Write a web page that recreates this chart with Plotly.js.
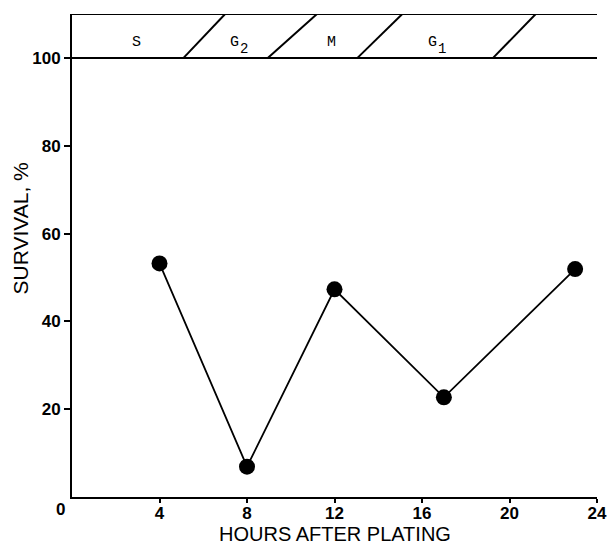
<!DOCTYPE html>
<html>
<head>
<meta charset="utf-8">
<script src="https://cdn.plot.ly/plotly-3.0.1.min.js"></script>
<style>html,body{margin:0;padding:0;background:#fff;}#chart{width:608px;height:546px;}</style>
</head>
<body>
<div id="chart"></div>
<script>
// Data
var hours = [4, 8, 12, 17, 23];
var survival = [53.2, 6.9, 47.3, 22.7, 51.9];

// Cell-cycle band (top strip, 100-110 %)
var bandLow = 100;
var bandHigh = 110;
var bandStart = 0;
var bandEnd = 24;
var phaseBoundBottom = [5.1, 8.95, 13.05, 19.25];
var phaseBoundTop = [7.0, 11.2, 15.1, 21.2];
var phaseLabels = ['S', 'G', 'M', 'G'];
var phaseSubs = ['', '2', '', '1'];
var phaseLabelX = [2.94, 7.42, 11.85, 16.47];
var phaseLabelY = 103.6;

var xTicks = [4, 8, 12, 16, 20, 24];
var yTicks = [20, 40, 60, 80, 100];
var xTitle = 'HOURS AFTER PLATING';
var yTitle = 'SURVIVAL, %';

var shapes = [];
[bandLow, bandHigh].forEach(function (yv) {
  shapes.push({type: 'line', xref: 'x', yref: 'y', x0: bandStart, x1: bandEnd, y0: yv, y1: yv,
    line: {color: '#000', width: 2}});
});
for (var i = 0; i < phaseBoundBottom.length; i++) {
  shapes.push({type: 'line', xref: 'x', yref: 'y', x0: phaseBoundBottom[i], x1: phaseBoundTop[i],
    y0: bandLow, y1: bandHigh, line: {color: '#000', width: 2}});
}

var monoFont = {family: 'Liberation Mono, DejaVu Sans Mono, monospace', size: 15, color: '#000'};
var tickFont = {family: 'Liberation Sans, Arial, sans-serif', size: 17, weight: 700, color: '#000'};
var titleFont = {family: 'Liberation Sans, Arial, sans-serif', size: 20, color: '#000'};
var annotations = [];
phaseLabels.forEach(function (t, i) {
  annotations.push({x: phaseLabelX[i], y: phaseLabelY, xref: 'x', yref: 'y', text: t,
    showarrow: false, font: monoFont});
  if (phaseSubs[i]) {
    annotations.push({x: phaseLabelX[i], y: phaseLabelY, xref: 'x', yref: 'y', text: phaseSubs[i],
      showarrow: false, xshift: 10, yshift: -7, font: {family: monoFont.family, size: 14, color: '#000'}});
  }
});
annotations.push({x: 0, y: 0, xref: 'x', yref: 'y', text: '0', showarrow: false,
  xanchor: 'right', yanchor: 'middle', xshift: -5, yshift: -12, font: tickFont});
// axis titles
annotations.push({x: 0.5, y: -0.102, xref: 'paper', yref: 'paper', text: xTitle, showarrow: false,
  xanchor: 'center', yanchor: 'bottom', borderpad: 0, font: titleFont});
annotations.push({x: -0.098, y: 0.555, xref: 'paper', yref: 'paper', text: yTitle, showarrow: false,
  textangle: -90, xanchor: 'center', yanchor: 'middle', font: {family: titleFont.family, size: 21, color: '#000'}});

var trace = {
  x: hours, y: survival, type: 'scatter', mode: 'lines+markers',
  line: {color: '#000', width: 1.8},
  marker: {color: '#000', size: 16},
  cliponaxis: false, showlegend: false
};

var layout = {
  width: 608, height: 546,
  margin: {l: 72, r: 11, t: 14, b: 49},
  paper_bgcolor: '#fff', plot_bgcolor: '#fff',
  font: {family: 'Liberation Sans, Arial, sans-serif', color: '#000'},
  xaxis: {
    range: [0, 24], tickvals: xTicks, ticktext: xTicks.map(String),
    showgrid: false, zeroline: false, showline: true, linecolor: '#000', linewidth: 2,
    ticks: 'outside', ticklen: 4, tickwidth: 2, tickcolor: '#000',
    tickfont: tickFont, ticklabelstandoff: -4,
    automargin: false, fixedrange: true
  },
  yaxis: {
    range: [0, bandHigh], tickvals: yTicks, ticktext: yTicks.map(String),
    showgrid: false, zeroline: false, showline: true, linecolor: '#000', linewidth: 2,
    ticks: 'outside', ticklen: 6, tickwidth: 2, tickcolor: '#000',
    tickfont: tickFont,
    automargin: false, fixedrange: true
  },
  shapes: shapes,
  annotations: annotations
};

Plotly.newPlot('chart', [trace], layout, {displayModeBar: false, staticPlot: true});
</script>
</body>
</html>
